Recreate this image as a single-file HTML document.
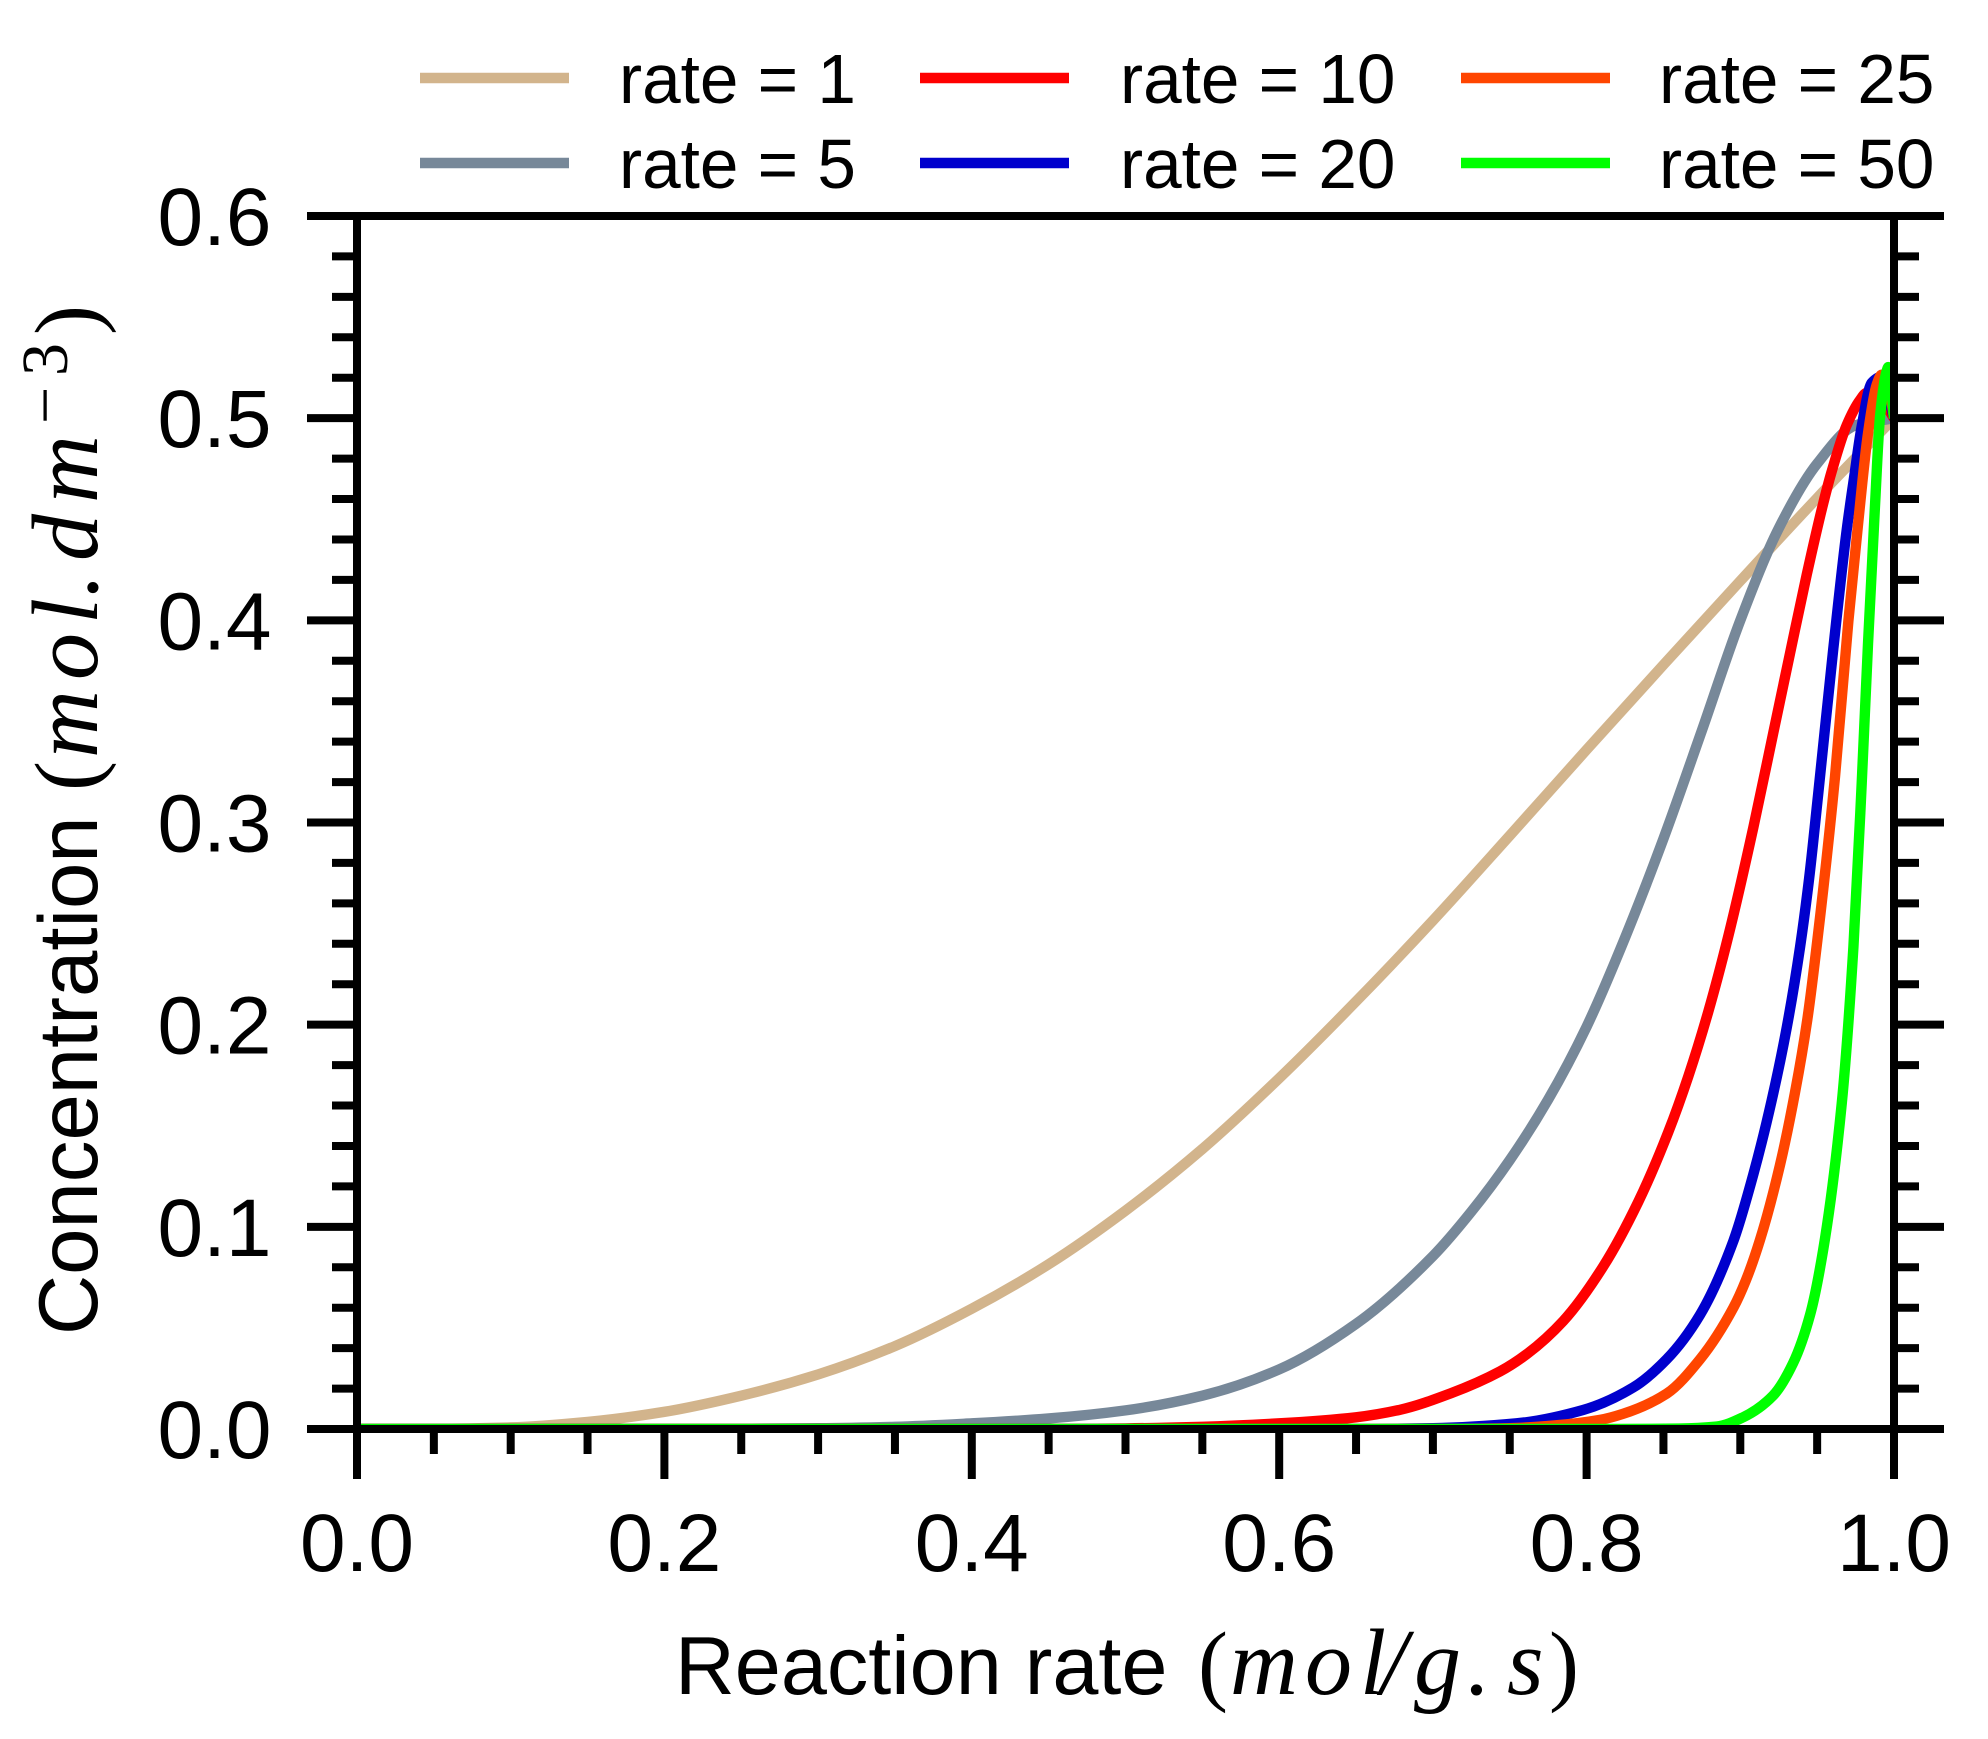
<!DOCTYPE html>
<html lang="en">
<head>
<meta charset="utf-8">
<title>Concentration vs reaction rate</title>
<style>
html,body{margin:0;padding:0;background:#fff;}
svg{display:block;}
text{font-family:"Liberation Sans",Arial,sans-serif;fill:#000;}
.serif{font-family:"Liberation Serif","Times New Roman",serif;}
</style>
</head>
<body>
<svg id="chart" xmlns="http://www.w3.org/2000/svg" width="1988" height="1739" viewBox="0 0 1988 1739">
<defs><clipPath id="plot-clip"><rect x="357" y="216" width="1537" height="1213"/></clipPath></defs>
<rect width="1988" height="1739" fill="#fff"/>
<g id="series-layer" clip-path="url(#plot-clip)"></g>
<g id="axis-layer"></g>
<g id="legend-layer"></g>
<text x="675" y="1694" font-size="82.8">Reaction rate <tspan class="serif" font-size="90" x="1198">(</tspan><tspan class="serif" font-size="94" font-style="italic" x="1230 1305 1360 1381 1414 1467 1507">mol/g.s</tspan><tspan class="serif" font-size="90" x="1549">)</tspan></text>
<text transform="translate(97,0) rotate(-90)" x="-1335" y="0" font-size="83.3">Concentration <tspan class="serif" font-size="90" x="-791" y="0">(</tspan><tspan class="serif" font-size="94" font-style="italic" x="-758 -680 -624 -597 -561 -503" y="0">mol.dm</tspan><tspan class="serif" font-size="66" x="-424 -376" y="-30">−3</tspan><tspan class="serif" font-size="90" x="-335" y="0">)</tspan></text>
</svg>
<script>
const xTickLabels = ["0.0", "0.2", "0.4", "0.6", "0.8", "1.0"];
const yTickLabels = ["0.0", "0.1", "0.2", "0.3", "0.4", "0.5", "0.6"];
const xTickValues = [0, 0.2, 0.4, 0.6, 0.8, 1.0];
const yTickValues = [0, 0.1, 0.2, 0.3, 0.4, 0.5, 0.6];
const xMinorValues = [0.05, 0.1, 0.15, 0.25, 0.3, 0.35, 0.45, 0.5, 0.55, 0.65, 0.7, 0.75, 0.85, 0.9, 0.95];
const yMinorValues = [0.02, 0.04, 0.06, 0.08, 0.12, 0.14, 0.16, 0.18, 0.22, 0.24, 0.26, 0.28, 0.32, 0.34, 0.36, 0.38, 0.42, 0.44, 0.46, 0.48, 0.52, 0.54, 0.56, 0.58];

const rate1X = [0, 0.05, 0.1, 0.15, 0.2, 0.25, 0.3, 0.35, 0.4, 0.45, 0.5, 0.55, 0.6, 0.65, 0.7, 0.75, 0.8, 0.85, 0.9, 0.95, 1];
const rate1Y = [0, 0.0001, 0.0008, 0.0035, 0.0085, 0.0165, 0.027, 0.041, 0.0595, 0.0815, 0.108, 0.1385, 0.1735, 0.2115, 0.2515, 0.2935, 0.336, 0.378, 0.4195, 0.4605, 0.5];

const rate5X = [0, 0.2, 0.3, 0.35, 0.4, 0.45, 0.5, 0.55, 0.6, 0.65, 0.7, 0.725, 0.75, 0.775, 0.8, 0.825, 0.85, 0.875, 0.9, 0.925, 0.95, 0.975, 1];
const rate5Y = [0, 0, 0.0004, 0.0011, 0.0028, 0.0052, 0.0092, 0.0165, 0.0295, 0.052, 0.0855, 0.1075, 0.133, 0.163, 0.199, 0.243, 0.292, 0.3455, 0.4, 0.4455, 0.4775, 0.4965, 0.5];

const rate10X = [0, 0.45, 0.5, 0.55, 0.6, 0.65, 0.6786, 0.7111, 0.7437, 0.761, 0.7849, 0.8109, 0.8337, 0.8532, 0.8662, 0.8792, 0.8922, 0.9085, 0.9215, 0.9323, 0.9432, 0.954, 0.9594, 0.9692, 0.9779, 0.9822, 0.988, 1];
const rate10Y = [0, 0, 0.0003, 0.0011, 0.0028, 0.0058, 0.0095, 0.0175, 0.0285, 0.037, 0.0535, 0.0805, 0.1125, 0.147, 0.1745, 0.2065, 0.2438, 0.2976, 0.3445, 0.3835, 0.4225, 0.458, 0.4735, 0.4965, 0.509, 0.5125, 0.5125, 0.5];

const rate20X = [0, 0.65, 0.7, 0.7545, 0.7977, 0.8302, 0.8521, 0.8738, 0.8955, 0.9085, 0.9204, 0.9302, 0.9389, 0.9448, 0.9506, 0.9603, 0.9692, 0.974, 0.979, 0.9855, 0.992, 1];
const rate20Y = [0, 0, 0.0004, 0.0028, 0.0094, 0.0205, 0.0345, 0.0565, 0.093, 0.126, 0.1625, 0.1985, 0.2385, 0.2725, 0.3135, 0.3845, 0.4445, 0.4705, 0.496, 0.5175, 0.5205, 0.5];

const rate25X = [0, 0.7, 0.75, 0.78, 0.8087, 0.8237, 0.8521, 0.8738, 0.8955, 0.9036, 0.9128, 0.9258, 0.9356, 0.9436, 0.9501, 0.9616, 0.9703, 0.9766, 0.9831, 0.9887, 0.992, 0.9974, 1];
const rate25Y = [0, 0, 0.0004, 0.0018, 0.0045, 0.0075, 0.0175, 0.0345, 0.06, 0.0735, 0.0935, 0.1305, 0.1665, 0.2025, 0.2415, 0.3225, 0.3995, 0.4475, 0.4925, 0.5165, 0.5215, 0.512, 0.5];

const rate50X = [0, 0.82, 0.86, 0.8846, 0.9018, 0.9213, 0.9343, 0.9454, 0.9539, 0.966, 0.9736, 0.979, 0.9831, 0.9876, 0.9909, 0.9954, 0.9963, 0.9985, 1];
const rate50Y = [0, 0, 0.0002, 0.0012, 0.0058, 0.0165, 0.0325, 0.0565, 0.0885, 0.161, 0.2385, 0.3195, 0.3885, 0.4562, 0.5006, 0.5238, 0.5253, 0.512, 0.5];

const seriesNames = ["rate = 1", "rate = 5", "rate = 10", "rate = 20", "rate = 25", "rate = 50"];
const seriesXs = [rate1X, rate5X, rate10X, rate20X, rate25X, rate50X];
const seriesYs = [rate1Y, rate5Y, rate10Y, rate20Y, rate25Y, rate50Y];
const seriesColors = ["#D2B48C", "#778899", "#FF0000", "#0000CD", "#FF4500", "#00FF00"];

const SVGNS = "http://www.w3.org/2000/svg";
const PLOT_LEFT = 357, PLOT_RIGHT = 1894, PLOT_TOP = 216, PLOT_BOTTOM = 1429;
const X_MIN = 0, X_MAX = 1, Y_MIN = 0, Y_MAX = 0.6;
function xScale(v) { return PLOT_LEFT + (v - X_MIN) / (X_MAX - X_MIN) * (PLOT_RIGHT - PLOT_LEFT); }
function yScale(v) { return PLOT_BOTTOM - (v - Y_MIN) / (Y_MAX - Y_MIN) * (PLOT_BOTTOM - PLOT_TOP); }

function monotonePath(xs, ys) {
  const px = xs.map(xScale), py = ys.map(yScale), n = px.length;
  const d = [], m = [];
  for (let i = 0; i < n - 1; i++) d.push((py[i + 1] - py[i]) / (px[i + 1] - px[i]));
  m[0] = d[0]; m[n - 1] = d[n - 2];
  for (let i = 1; i < n - 1; i++) {
    if (d[i - 1] * d[i] <= 0) { m[i] = 0; continue; }
    const h0 = px[i] - px[i - 1], h1 = px[i + 1] - px[i];
    m[i] = 3 * (h0 + h1) / ((2 * h1 + h0) / d[i - 1] + (h1 + 2 * h0) / d[i]);
  }
  let s = "M" + px[0].toFixed(2) + " " + py[0].toFixed(2);
  for (let i = 0; i < n - 1; i++) {
    const h = (px[i + 1] - px[i]) / 3;
    s += "C" + (px[i] + h).toFixed(2) + " " + (py[i] + m[i] * h).toFixed(2) + " " +
         (px[i + 1] - h).toFixed(2) + " " + (py[i + 1] - m[i + 1] * h).toFixed(2) + " " +
         px[i + 1].toFixed(2) + " " + py[i + 1].toFixed(2);
  }
  return s;
}

function seg(parent, x1, y1, x2, y2, w, color) {
  const l = document.createElementNS(SVGNS, "line");
  l.setAttribute("x1", x1); l.setAttribute("y1", y1);
  l.setAttribute("x2", x2); l.setAttribute("y2", y2);
  l.setAttribute("stroke", color); l.setAttribute("stroke-width", w);
  parent.appendChild(l);
  return l;
}
function label(parent, x, y, size, anchor, str) {
  const t = document.createElementNS(SVGNS, "text");
  t.setAttribute("x", x); t.setAttribute("y", y);
  t.setAttribute("font-size", size); t.setAttribute("text-anchor", anchor);
  t.textContent = str;
  parent.appendChild(t);
  return t;
}

const seriesLayer = document.getElementById("series-layer");
seriesNames.forEach(function (name, i) {
  const p = document.createElementNS(SVGNS, "path");
  p.setAttribute("d", monotonePath(seriesXs[i], seriesYs[i]));
  p.setAttribute("fill", "none");
  p.setAttribute("stroke", seriesColors[i]);
  p.setAttribute("stroke-width", "10.4");
  p.setAttribute("stroke-linejoin", "round");
  
  
  seriesLayer.appendChild(p);
});

const axisLayer = document.getElementById("axis-layer");
const SW = 8, MAJOR = 50, MINOR = 25;

xMinorValues.forEach(function (v) {
  const t = seg(axisLayer, xScale(v), PLOT_BOTTOM, xScale(v), PLOT_BOTTOM + MINOR, SW, "#000");
  
  
});
xTickValues.forEach(function (v, i) {
  const t = seg(axisLayer, xScale(v), PLOT_BOTTOM, xScale(v), PLOT_BOTTOM + MAJOR, SW, "#000");
  
  
  const l = label(axisLayer, xScale(v), 1571, 82, "middle", xTickLabels[i]);
  
  
});
yMinorValues.forEach(function (v) {
  const a = seg(axisLayer, PLOT_LEFT - MINOR, yScale(v), PLOT_LEFT, yScale(v), SW, "#000");
  
  
  const b = seg(axisLayer, PLOT_RIGHT, yScale(v), PLOT_RIGHT + MINOR, yScale(v), SW, "#000");
  
  
});
yTickValues.forEach(function (v, i) {
  const a = seg(axisLayer, PLOT_LEFT - MAJOR, yScale(v), PLOT_LEFT, yScale(v), SW, "#000");
  
  
  const b = seg(axisLayer, PLOT_RIGHT, yScale(v), PLOT_RIGHT + MAJOR, yScale(v), SW, "#000");
  
  
  const l = label(axisLayer, 271.5, yScale(v) + 29, 82, "end", yTickLabels[i]);
  
  
});

const spineLeft = seg(axisLayer, PLOT_LEFT, PLOT_TOP - SW / 2, PLOT_LEFT, PLOT_BOTTOM + SW / 2, SW, "#000");


const spineRight = seg(axisLayer, PLOT_RIGHT, PLOT_TOP - SW / 2, PLOT_RIGHT, PLOT_BOTTOM + SW / 2, SW, "#000");


const spineTop = seg(axisLayer, PLOT_LEFT - SW / 2, PLOT_TOP, PLOT_RIGHT + SW / 2, PLOT_TOP, SW, "#000");


const spineBottom = seg(axisLayer, PLOT_LEFT - SW / 2, PLOT_BOTTOM, PLOT_RIGHT + SW / 2, PLOT_BOTTOM, SW, "#000");



const legendLayer = document.getElementById("legend-layer");
const legendColumnX = [420, 920, 1461];
const legendTextX = [619, 1120, 1659];
const legendRowY = [78, 163];
seriesNames.forEach(function (name, i) {
  const col = Math.floor(i / 2), row = i % 2;
  const key = seg(legendLayer, legendColumnX[col], legendRowY[row], legendColumnX[col] + 149, legendRowY[row], 10.4, seriesColors[i]);
  
  
  const txt = label(legendLayer, legendTextX[col], legendRowY[row] + 25, 69.3, "start", name);
  
  
});
</script>
</body>
</html>
